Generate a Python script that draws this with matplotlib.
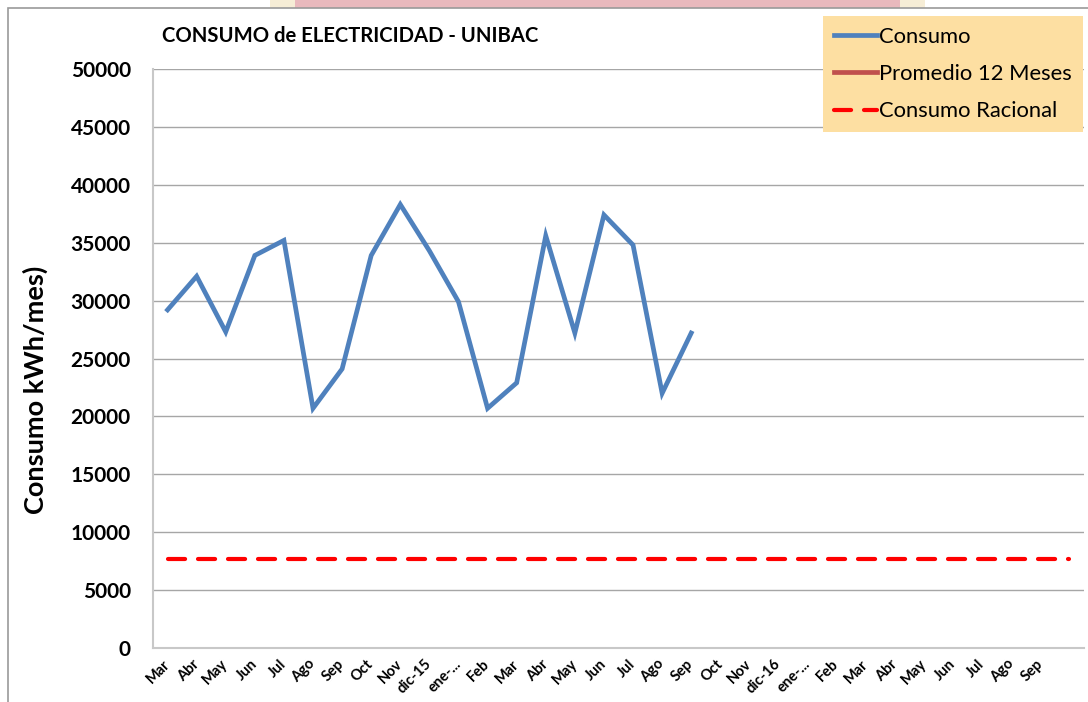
import matplotlib
matplotlib.use('Agg')
import matplotlib.pyplot as plt
from matplotlib.patches import Rectangle

plt.rcParams['font.family'] = ['Lato', 'DejaVu Sans']

# categories (32 slots, last one blank)
meses = ['Mar', 'Abr', 'May', 'Jun', 'Jul', 'Ago', 'Sep', 'Oct', 'Nov', 'dic-15',
         'ene-...', 'Feb', 'Mar', 'Abr', 'May', 'Jun', 'Jul', 'Ago', 'Sep',
         'Oct', 'Nov', 'dic-16', 'ene-...', 'Feb', 'Mar', 'Abr', 'May', 'Jun',
         'Jul', 'Ago', 'Sep', '']

consumo = [29200, 32100, 27300, 33900, 35200, 20700, 24100, 33900, 38300, 34300,
           29900, 20700, 22900, 35600, 27200, 37400, 34800, 22000, 27200]
promedio_12 = []
consumo_racional = [7700] * len(meses)

yticks = [0, 5000, 10000, 15000, 20000, 25000, 30000, 35000, 40000, 45000, 50000]

fig = plt.figure(figsize=(10.88, 7.02), dpi=100)

# background strip from slide image + chart frame
fig.patches.append(Rectangle((270 / 1088, 1 - 8 / 702), 655 / 1088, 8 / 702,
                             transform=fig.transFigure, facecolor='#f6edd6',
                             edgecolor='none', zorder=-3))
fig.patches.append(Rectangle((295 / 1088, 1 - 8 / 702), 605 / 1088, 8 / 702,
                             transform=fig.transFigure, facecolor='#e9b9bd',
                             edgecolor='none', zorder=-2))
fig.patches.append(Rectangle((8 / 1088, -0.05), 1.1, 1.05 - 8 / 702,
                             transform=fig.transFigure, facecolor='white',
                             edgecolor='#9a9a9a', linewidth=1.2, zorder=-1))

ax = fig.add_axes([153 / 1088, 1 - 648 / 702, 931 / 1088, 579 / 702])
ax.set_facecolor('none')

x = list(range(len(meses)))
ax.plot(x[:len(consumo)], consumo, color='#4F81BD', linewidth=3.4,
        solid_joinstyle='miter', label='Consumo', zorder=3)
ax.plot(x[:len(promedio_12)], promedio_12, color='#C0504D', linewidth=3.4,
        label='Promedio 12 Meses')
ax.plot(x, consumo_racional, color='#FF0000', linewidth=3.0,
        dashes=(4.1, 3.1), dash_capstyle='round', label='Consumo Racional', zorder=3)

ax.set_xlim(-0.5, len(meses) - 0.5)
ax.set_ylim(0, 50000)
ax.set_yticks(yticks)
ax.set_yticklabels([str(v) for v in yticks], fontsize=15, fontweight='bold')
ax.set_xticks(x)
ax.set_xticklabels(meses, fontsize=10.5, fontweight='bold', rotation=45,
                   ha='right', va='center', rotation_mode='anchor')
ax.tick_params(axis='both', length=0)
ax.tick_params(axis='y', pad=16)
ax.tick_params(axis='x', pad=10)
ax.grid(axis='y', color='#a6a6a6', linewidth=1)
ax.set_axisbelow(True)
for s in ['top', 'right']:
    ax.spines[s].set_visible(False)
for s in ['left', 'bottom']:
    ax.spines[s].set_color('#c8c8c8')
    ax.spines[s].set_linewidth(1.5)

fig.text(35 / 1088, 1 - 390 / 702, 'Consumo kWh/mes)', rotation=90, fontsize=19.5,
         fontweight='bold', ha='center', va='center')
fig.text(162 / 1088, 1 - 36 / 702, 'CONSUMO de ELECTRICIDAD - UNIBAC', fontsize=14.6,
         fontweight='bold', ha='left', va='center')

leg = ax.legend(loc='upper left', bbox_to_anchor=(823 / 1088, 1 - 16 / 702),
                bbox_transform=fig.transFigure, fontsize=15.8, frameon=True,
                fancybox=False, facecolor='#FDDFA2', edgecolor='none',
                framealpha=1, handlelength=1.95, handletextpad=0.12,
                labelspacing=0.78, borderpad=0.5, borderaxespad=0)

fig.savefig('out.png', dpi=100)
